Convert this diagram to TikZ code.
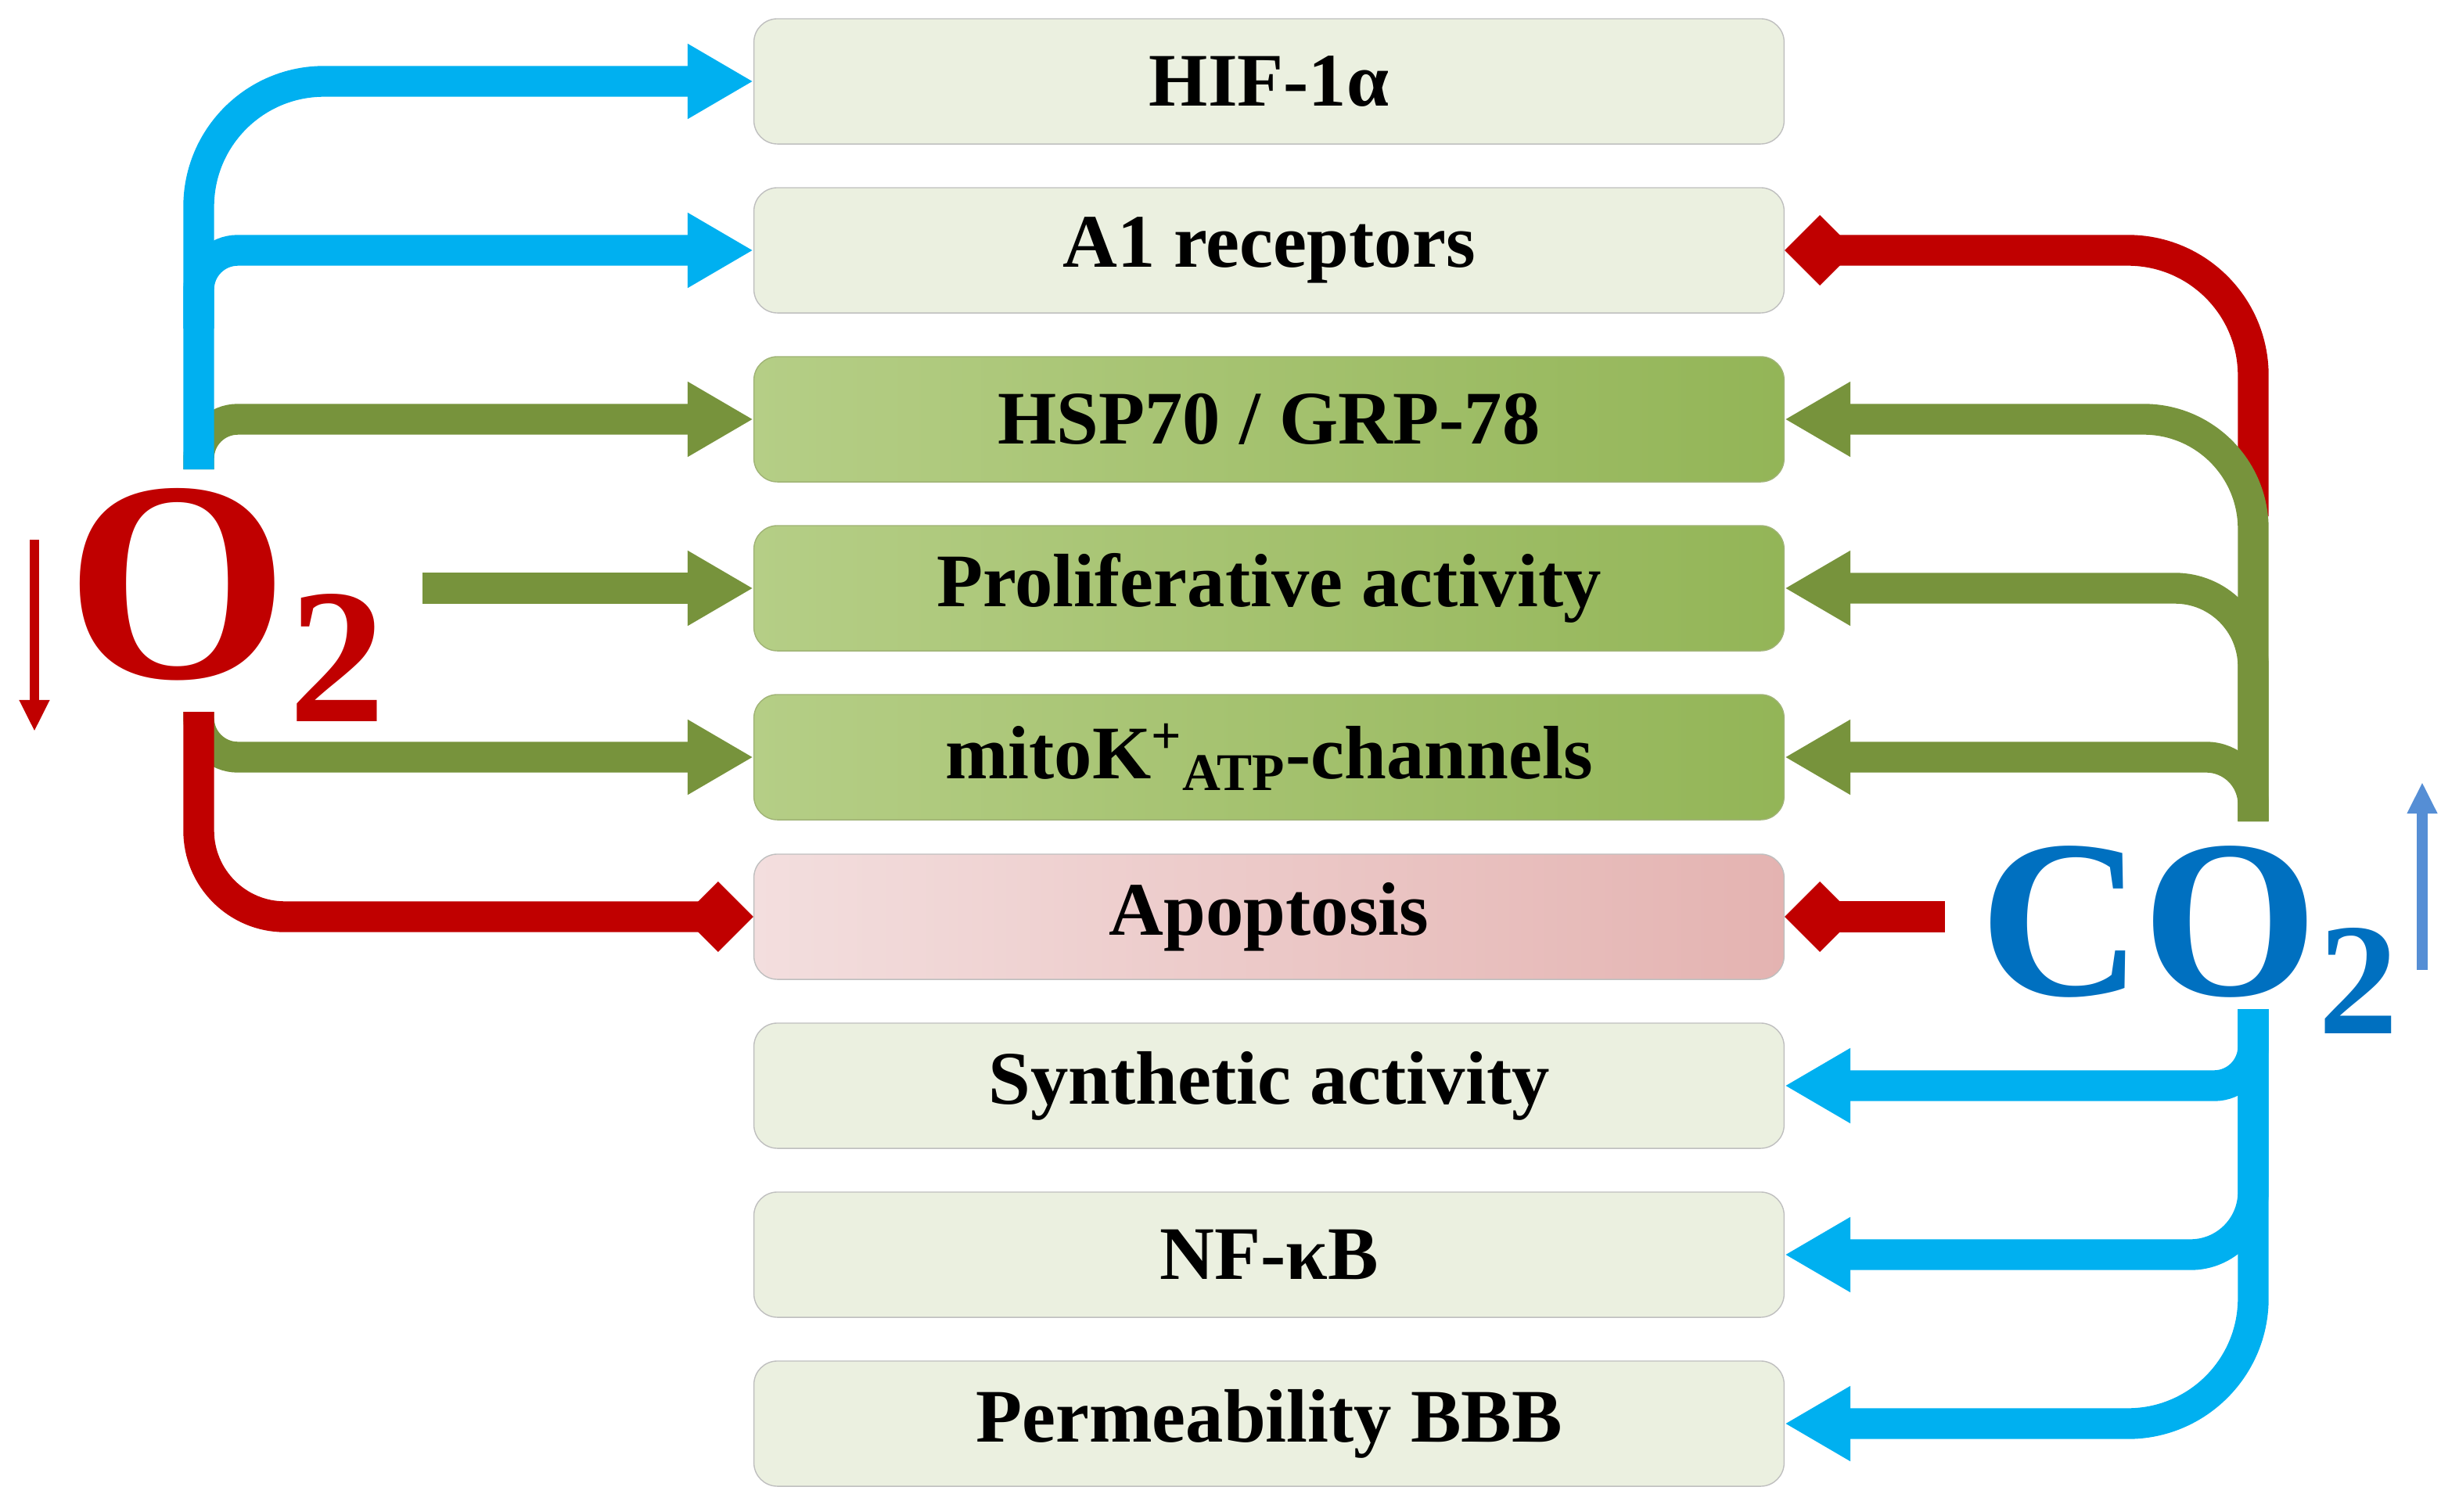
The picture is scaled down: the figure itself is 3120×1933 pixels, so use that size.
\documentclass[tikz,border=0pt]{standalone}
\usepackage{fontspec}
\setmainfont{Liberation Serif}
\usetikzlibrary{arrows.meta}
\definecolor{cblue}{HTML}{00B0F0}
\definecolor{cgreen}{HTML}{77933C}
\definecolor{cred}{HTML}{C00000}
\definecolor{cotwo}{HTML}{0070C0}
\definecolor{cup}{HTML}{558ED5}
\definecolor{lbox}{HTML}{EBF0E0}
\definecolor{gboxa}{HTML}{B5CE86}
\definecolor{gboxb}{HTML}{93B557}
\definecolor{pboxa}{HTML}{F3DEDE}
\definecolor{pboxb}{HTML}{E4B3B1}
\begin{document}
\begin{tikzpicture}[x=0.01cm,y=-0.01cm,
  box/.style={rounded corners=0.3cm,minimum width=13.16cm,minimum height=1.6cm,inner sep=0pt,
    font=\fontsize{27.5}{31}\selectfont\bfseries,text=black},
  lbox/.style={box,fill=lbox,draw=gray!50,line width=0.4pt},
  gbox/.style={box,left color=gboxa,right color=gboxb,draw=cgreen!70,line width=0.4pt},
  pbox/.style={box,left color=pboxa,right color=pboxb,draw=gray!50,line width=0.4pt},
  con/.style={line width=11.2pt},
  ar/.style={con,-{Triangle[length=0.84cm,width=0.9cm]}},
  di/.style={con,-{Turned Square[length=0.9cm,width=0.9cm]}}]
\useasboundingbox (0,0) rectangle (3120,1933);
\node[lbox] (hif) at (1622,104) {HIF-1α};
\node[lbox] (a1) at (1622,320) {A1 receptors};
\node[gbox] (hsp) at (1622,536) {HSP70 / GRP-78};
\node[gbox] (prol) at (1622,752) {Proliferative activity};
\node[gbox] (mito) at (1622,968) {mitoK\textsuperscript{+}\textsubscript{ATP}-channels};
\node[pbox] (apo) at (1622,1172) {Apoptosis};
\node[lbox] (syn) at (1622,1388) {Synthetic activity};
\node[lbox] (nfkb) at (1622,1604) {NF-κB};
\node[lbox] (perm) at (1622,1820) {Permeability BBB};
% left
\coordinate (lt) at (254,600);
\coordinate (lb) at (254,910);
\coordinate (lm) at (540,752);
\draw[ar,cgreen,rounded corners=0.5cm] (lt) |- (hsp.west);
\draw[ar,cblue,rounded corners=1.6cm] (lt) |- (hif.west);
\draw[ar,cblue,rounded corners=0.5cm] (254,420) |- (a1.west);
\draw[ar,cgreen] (lm) -- (prol.west);
\draw[ar,cgreen,rounded corners=0.5cm] (lb) |- (mito.west);
\draw[di,cred,rounded corners=1.1cm] (lb) |- (apo.west);
% right
\coordinate (rt) at (2880,660);
\coordinate (rg) at (2880,1050);
\coordinate (rb) at (2880,1290);
\coordinate (ra) at (2486,1172);
\draw[di,cred,rounded corners=1.6cm] (rt) |- (a1.east);
\draw[ar,cgreen,rounded corners=1.4cm] (rg) |- (hsp.east);
\draw[ar,cgreen,rounded corners=1cm] (rg) |- (prol.east);
\draw[ar,cgreen,rounded corners=0.6cm] (rg) |- (mito.east);
\draw[di,cred] (ra) -- (apo.east);
\draw[ar,cblue,rounded corners=1.6cm] (rb) |- (perm.east);
\draw[ar,cblue,rounded corners=0.8cm] (rb) |- (nfkb.east);
\draw[ar,cblue,rounded corners=0.5cm] (rb) |- (syn.east);
% labels
\node[anchor=base west,inner sep=0pt,text=cred,font=\bfseries] (o2) at (84,866)
  {\fontsize{104}{110}\selectfont O\fontsize{70}{74}\selectfont\raisebox{-16pt}{2}};
\node[anchor=base west,inner sep=0pt,text=cotwo,font=\bfseries] (co2) at (2530,1272)
  {\fontsize{82}{86}\selectfont CO\fontsize{58}{62}\selectfont\raisebox{-14pt}{2}};
\coordinate (da) at (44,690); \coordinate (db) at (44,935);
\draw[cred,line width=3.4pt,-{Triangle[length=0.4cm,width=0.36cm]}] (da) -- (db);
\coordinate (ua) at (3096,1240); \coordinate (ub) at (3096,1000);
\draw[cup,line width=4pt,-{Triangle[length=0.4cm,width=0.36cm]}] (ua) -- (ub);
\end{tikzpicture}
\end{document}
